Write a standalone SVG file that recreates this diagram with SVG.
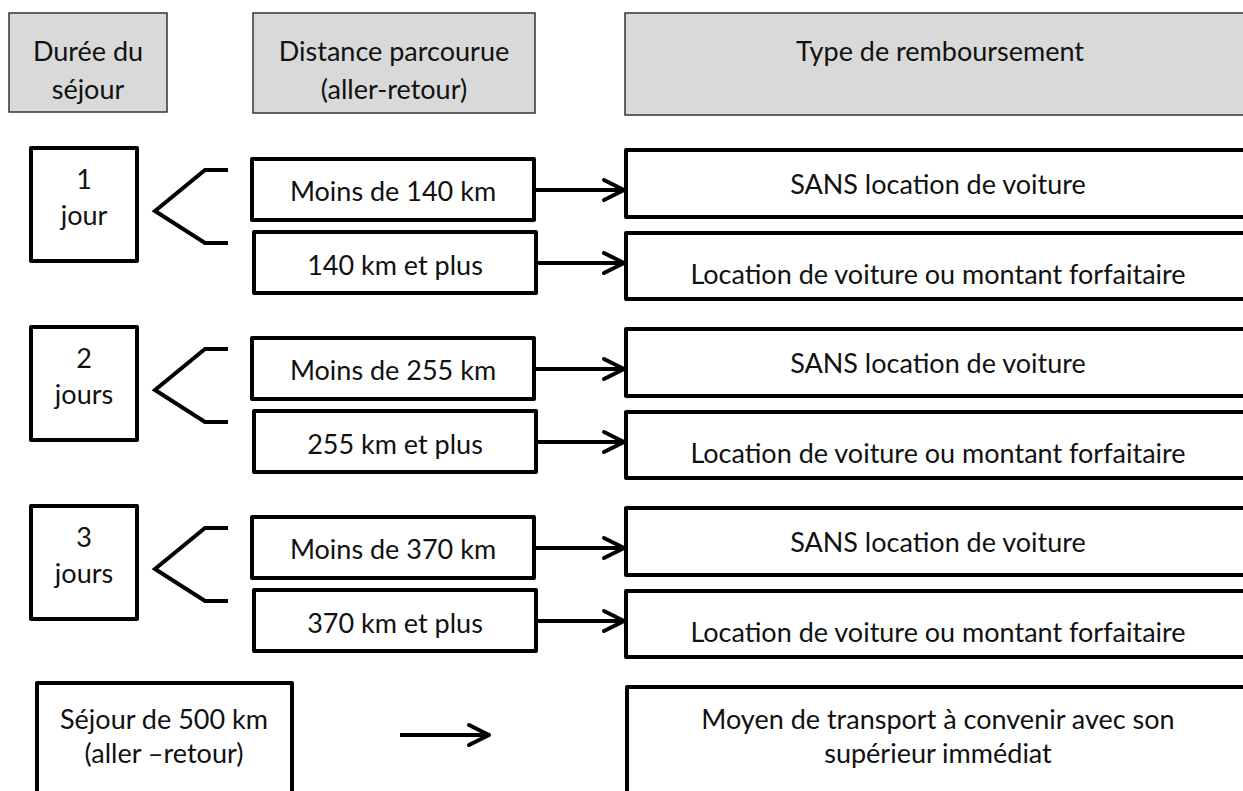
<svg xmlns="http://www.w3.org/2000/svg" width="1243" height="791" viewBox="0 0 1243 791">
<style>
text{font-family:Lato,"Open Sans","Liberation Sans",sans-serif;font-size:27px;fill:#111;text-anchor:middle;dominant-baseline:central}
.hdr{fill:#d9d9d9;stroke:#333;stroke-width:1.5}
.box{fill:#fff;stroke:#000;stroke-width:4;stroke-linejoin:round}
.br{fill:none;stroke:#000;stroke-width:4;stroke-linejoin:miter}
.ar{fill:none;stroke:#000;stroke-width:4;marker-end:url(#ah)}
</style>
<defs>
<marker id="ah" markerUnits="userSpaceOnUse" markerWidth="30" markerHeight="30" refX="21" refY="11" orient="auto" overflow="visible">
<path d="M1,1 L21,11 L1,21" fill="none" stroke="#000" stroke-width="4" stroke-linecap="round" stroke-linejoin="round"/>
</marker>
</defs>
<rect width="1243" height="791" fill="#fff"/>
<g id="h1"><rect class="hdr" x="9" y="13" width="158" height="99"/><text x="88" y="50">Durée du</text><text x="88" y="88">séjour</text></g>
<g id="h2"><rect class="hdr" x="253" y="13" width="282" height="100"/><text x="394" y="50">Distance parcourue</text><text x="394" y="88">(aller-retour)</text></g>
<g id="h3"><rect class="hdr" x="625" y="13" width="640" height="102"/><text x="940" y="50">Type de remboursement</text></g>

<g id="d1"><rect class="box" x="31" y="148" width="106" height="113"/><text x="84" y="178">1</text><text x="84" y="214">jour</text></g>
<g id="k1a"><rect class="box" x="252" y="159" width="282" height="61"/><text x="393" y="190">Moins de 140 km</text></g>
<g id="k1b"><rect class="box" x="254" y="232" width="282" height="61"/><text x="395" y="264">140 km et plus</text></g>
<g id="r1a"><rect class="box" x="626" y="150" width="640" height="67"/><text x="938" y="183">SANS location de voiture</text></g>
<g id="r1b"><rect class="box" x="626" y="233" width="640" height="66"/><text x="938" y="273">Location de voiture ou montant forfaitaire</text></g>

<g id="d2"><rect class="box" x="31" y="327" width="106" height="113"/><text x="84" y="357">2</text><text x="84" y="393">jours</text></g>
<g id="k2a"><rect class="box" x="252" y="338" width="282" height="61"/><text x="393" y="369">Moins de 255 km</text></g>
<g id="k2b"><rect class="box" x="254" y="411" width="282" height="61"/><text x="395" y="443">255 km et plus</text></g>
<g id="r2a"><rect class="box" x="626" y="329" width="640" height="67"/><text x="938" y="362">SANS location de voiture</text></g>
<g id="r2b"><rect class="box" x="626" y="412" width="640" height="66"/><text x="938" y="452">Location de voiture ou montant forfaitaire</text></g>

<g id="d3"><rect class="box" x="31" y="506" width="106" height="113"/><text x="84" y="536">3</text><text x="84" y="572">jours</text></g>
<g id="k3a"><rect class="box" x="252" y="517" width="282" height="61"/><text x="393" y="548">Moins de 370 km</text></g>
<g id="k3b"><rect class="box" x="254" y="590" width="282" height="61"/><text x="395" y="622">370 km et plus</text></g>
<g id="r3a"><rect class="box" x="626" y="508" width="640" height="67"/><text x="938" y="541">SANS location de voiture</text></g>
<g id="r3b"><rect class="box" x="626" y="591" width="640" height="66"/><text x="938" y="631">Location de voiture ou montant forfaitaire</text></g>

<g id="s"><rect class="box" x="37" y="683" width="255" height="140"/><text x="164" y="718">Séjour de 500 km</text><text x="164" y="752">(aller –retour)</text></g>
<g id="rs"><rect class="box" x="627" y="687" width="640" height="140"/><text x="938" y="718">Moyen de transport à convenir avec son</text><text x="938" y="752">supérieur immédiat</text></g>

<g id="connectors">
<polyline class="br" points="228,170 205,170 155,211 205,243 228,243"/>
<polyline class="br" points="228,349 205,349 155,390 205,422 228,422"/>
<polyline class="br" points="228,528 205,528 155,569 205,601 228,601"/>
<line class="ar" x1="534" y1="190" x2="624" y2="190"/>
<line class="ar" x1="536" y1="263" x2="624" y2="263"/>
<line class="ar" x1="534" y1="369" x2="624" y2="369"/>
<line class="ar" x1="536" y1="442" x2="624" y2="442"/>
<line class="ar" x1="534" y1="548" x2="624" y2="548"/>
<line class="ar" x1="536" y1="621" x2="624" y2="621"/>
<line class="ar" x1="400" y1="735" x2="489" y2="735"/>
</g>
</svg>
